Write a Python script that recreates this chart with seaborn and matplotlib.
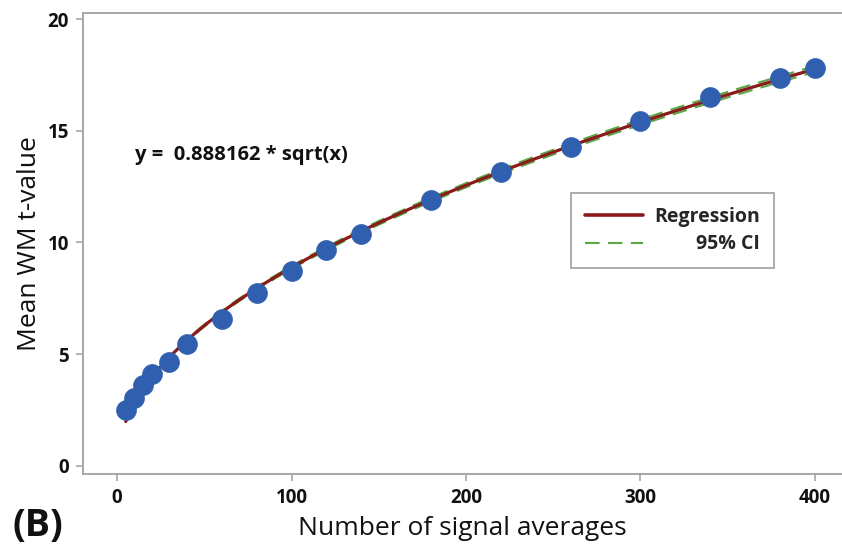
import numpy as np
import pandas as pd
import matplotlib
matplotlib.use("Agg")
import matplotlib.pyplot as plt
from matplotlib.lines import Line2D
import seaborn as sns

# Measured mean WM t-values per number of signal averages
n_averages = [5, 10, 15, 20, 30, 40, 60, 80, 100, 120, 140, 180, 220, 260, 300, 340, 380, 400]
mean_t = [2.5, 3.04, 3.62, 4.12, 4.65, 5.46, 6.58, 7.74, 8.72, 9.66, 10.38, 11.9, 13.15,
          14.27, 15.45, 16.5, 17.36, 17.8]

# Fitted model y = b * sqrt(x) and 95% confidence bounds of b
coef = 0.888162
coef_ci_low = 0.8815
coef_ci_high = 0.8948

x_ticks = [0, 100, 200, 300, 400]
y_ticks = [0, 5, 10, 15, 20]

sns.set_theme(style="white")
plt.rcParams["font.family"] = ["Open Sans", "DejaVu Sans"]

fig = plt.figure(figsize=(8.42, 5.44), dpi=100)
ax = fig.add_axes([83 / 842, (544 - 474) / 544, 759 / 842, 461 / 544])

xs = np.linspace(min(n_averages), max(n_averages), 300)
fit = pd.DataFrame({
    "x": xs,
    "fit": coef * np.sqrt(xs),
    "lo": coef_ci_low * np.sqrt(xs),
    "hi": coef_ci_high * np.sqrt(xs),
})

dash = (0, (7, 4))
sns.lineplot(data=fit, x="x", y="lo", ax=ax, color="#5aa845", lw=1.5,
             linestyle=dash, zorder=2)
sns.lineplot(data=fit, x="x", y="hi", ax=ax, color="#5aa845", lw=1.5,
             linestyle=dash, zorder=2)
sns.lineplot(data=fit, x="x", y="fit", ax=ax, color="#8b1a1a", lw=2.3, zorder=3)

pts = pd.DataFrame({"n": n_averages, "t": mean_t})
sns.scatterplot(data=pts, x="n", y="t", ax=ax, color="#2f5fae", s=205,
                edgecolor="#2f5fae", linewidth=0.5, zorder=4)

ax.set_xlim(-19.5, 415.5)
ax.set_ylim(-0.36, 20.27)
ax.set_xticks(x_ticks)
ax.set_yticks(y_ticks)
ax.set_xticklabels([str(v) for v in x_ticks], fontsize=13.5, fontweight="bold")
ax.set_yticklabels([str(v) for v in y_ticks], fontsize=13.5, fontweight="bold")
ax.tick_params(axis="both", direction="out", length=5, width=1.2, color="#a6a6a6",
               pad=5, bottom=True, left=True, labelcolor="#111111")

for side in ["left", "bottom", "top"]:
    ax.spines[side].set_visible(True)
    ax.spines[side].set_color("#a6a6a6")
    ax.spines[side].set_linewidth(1.4)
ax.spines["right"].set_visible(False)

ax.set_xlabel("Number of signal averages", fontsize=19, labelpad=6, color="#111111")
ax.set_ylabel("Mean WM t-value", fontsize=19, labelpad=4, color="#111111")

ax.text(10.3, 13.9, "y =  0.888162 * sqrt(x)", fontsize=14.5, fontweight="bold",
        ha="left", va="center", color="#111111")

handles = [
    Line2D([], [], color="#8b1a1a", lw=2.6),
    Line2D([], [], color="#5aa845", lw=1.5, linestyle=(0, (7, 4))),
]
leg = ax.legend(handles, ["Regression", "95% CI"], loc="upper left",
                bbox_to_anchor=(0.643, 0.6095), frameon=True, fancybox=False,
                edgecolor="#a6a6a6", framealpha=1, handlelength=3.0,
                handletextpad=0.6, borderpad=0.7, labelspacing=0.4,
                borderaxespad=0, prop={"size": 14, "weight": "bold"})
leg.get_frame().set_linewidth(1.3)

# Right-align the shorter legend label by padding it with spaces
fig.canvas.draw()
renderer = fig.canvas.get_renderer()
texts = leg.get_texts()
widths = [t.get_window_extent(renderer).width for t in texts]
probe = ax.text(0, 0, "a a", fontsize=14, fontweight="bold")
probe2 = ax.text(0, 0, "aa", fontsize=14, fontweight="bold")
space_w = probe.get_window_extent(renderer).width - probe2.get_window_extent(renderer).width
probe.remove()
probe2.remove()
n_pad = int(round((widths[0] - widths[1]) / space_w))
texts[1].set_text(" " * n_pad + texts[1].get_text())

fig.text(12 / 842, 1 - 526 / 544, "(B)", fontsize=27, fontweight="bold",
         ha="left", va="center", color="#111111")

fig.savefig("out.png", dpi=100)
